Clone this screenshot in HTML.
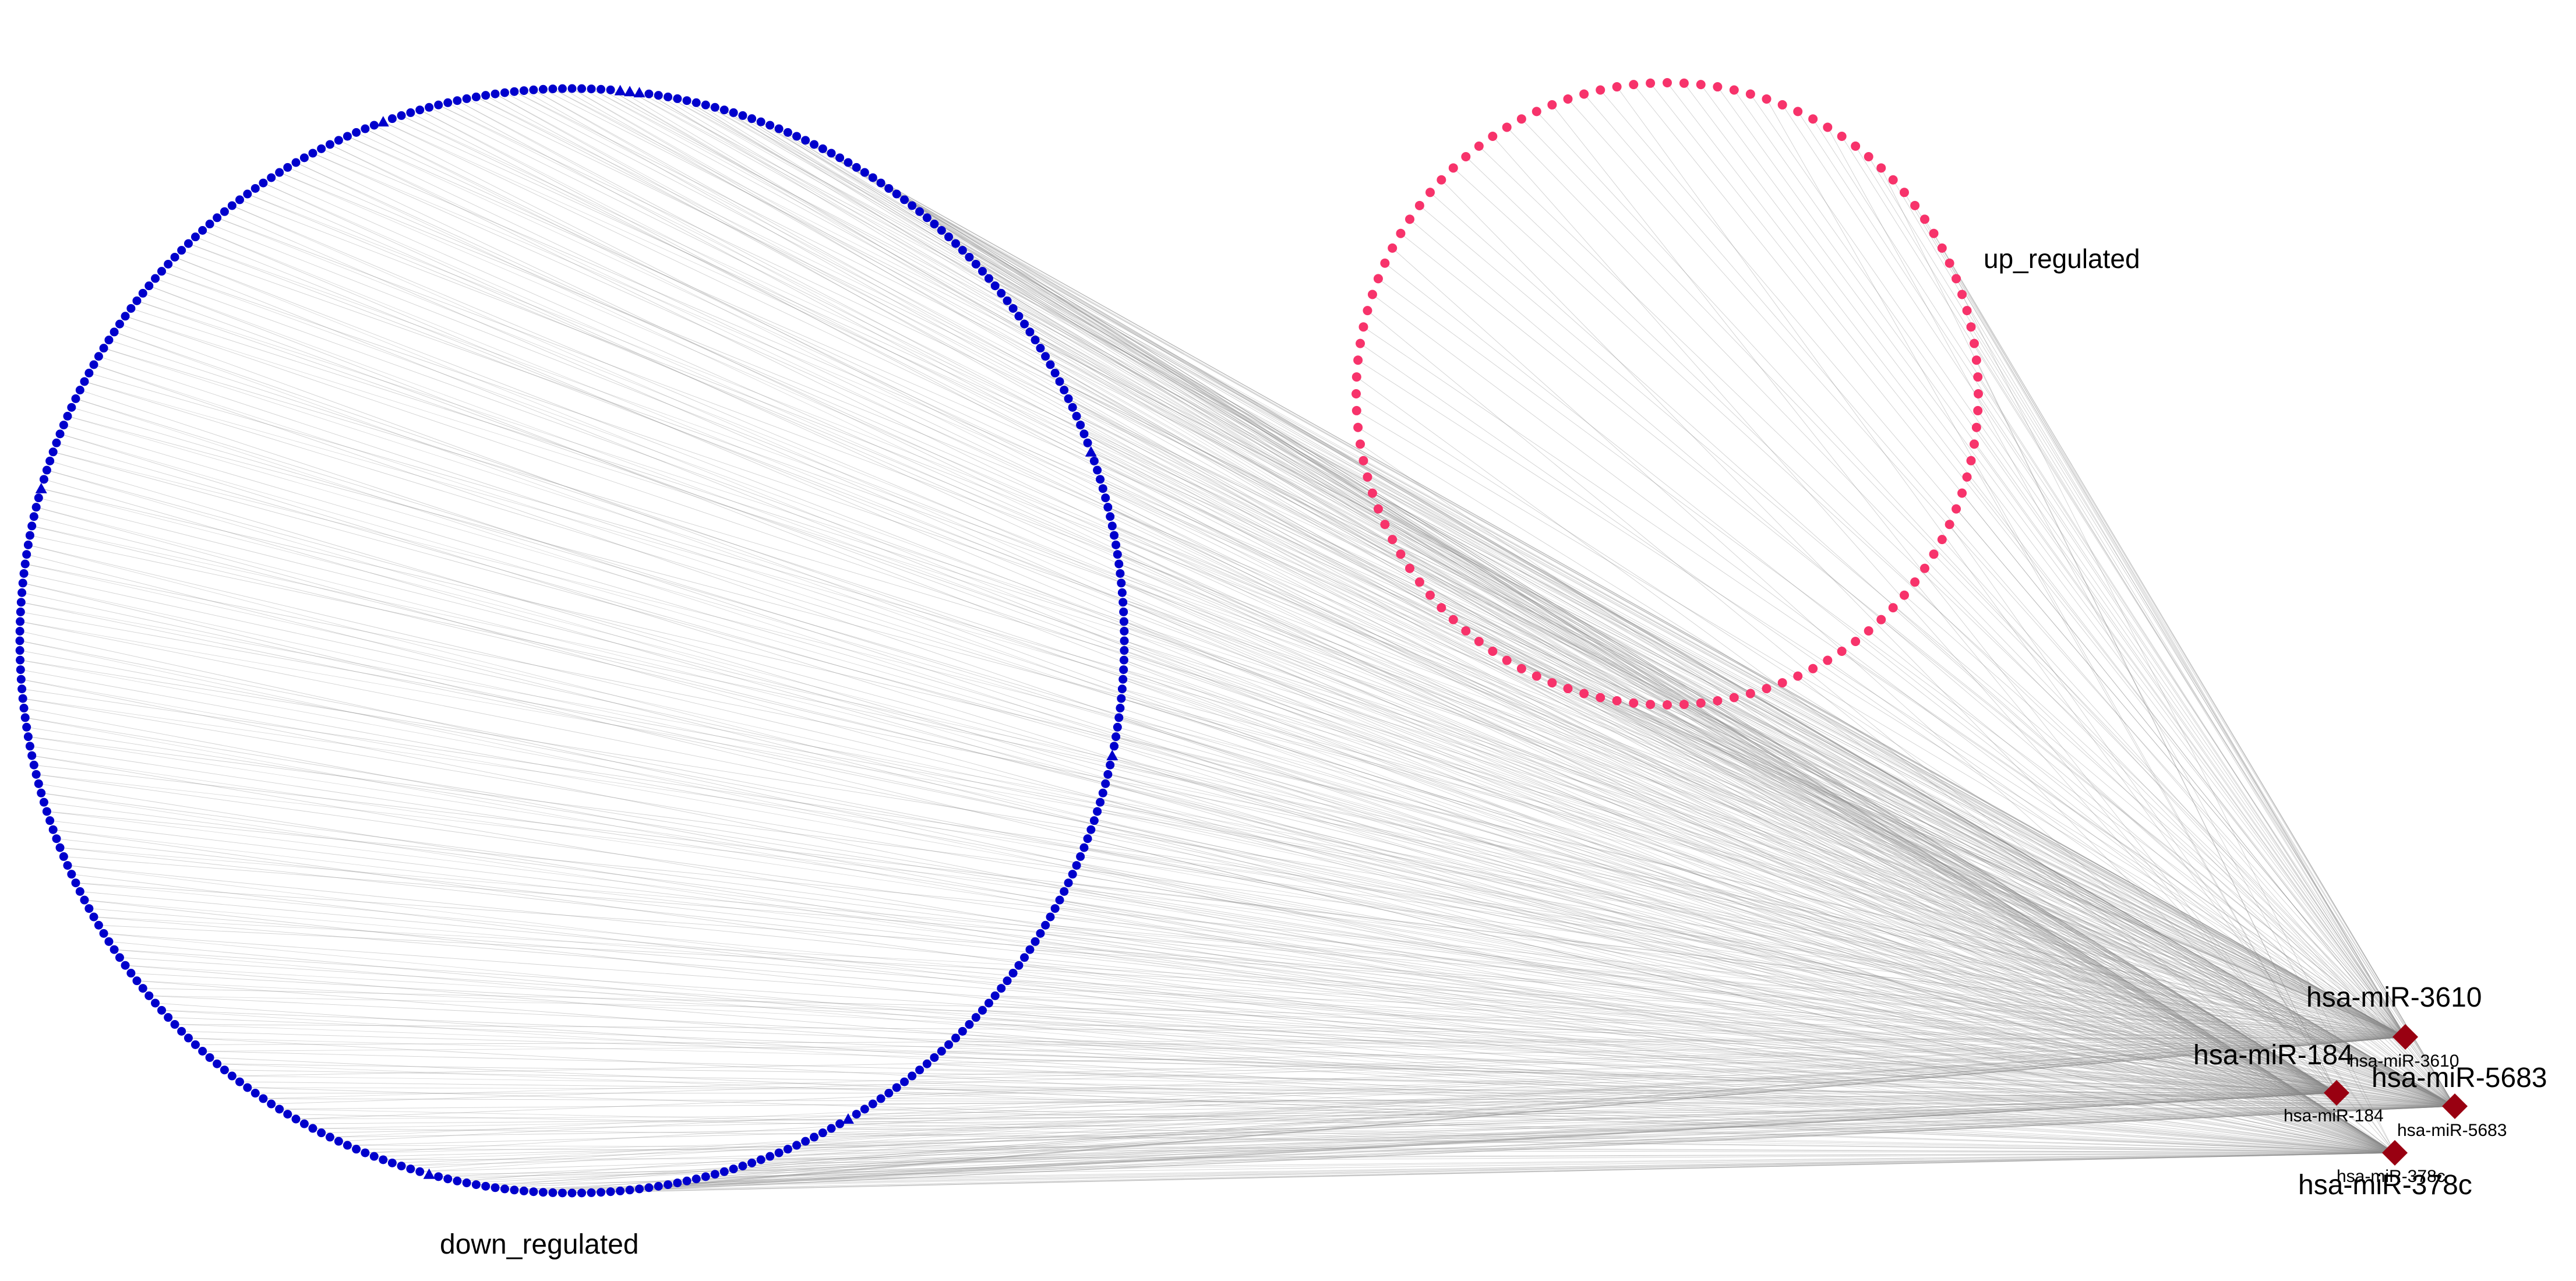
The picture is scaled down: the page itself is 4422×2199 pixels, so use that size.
<!DOCTYPE html>
<html><head><meta charset="utf-8"><style>
html,body{margin:0;padding:0;background:#fff;}
svg{display:block;}
text{font-family:"Liberation Sans",Arial,sans-serif;fill:#000;}
</style></head><body>
<svg id="net" width="4422" height="2199" viewBox="0 0 4422 2199" xmlns="http://www.w3.org/2000/svg">
<g id="edges"></g>
<g id="nodes"></g>
<g id="labels">
<text x="3405" y="460" font-size="46">up_regulated</text>
<text x="755" y="2152" font-size="48">down_regulated</text>
</g>
</svg>
<script>
// data
const mirnaNames = ["hsa-miR-3610","hsa-miR-184","hsa-miR-5683","hsa-miR-378c"];
const mirnaX = [4129,4011,4214,4111];
const mirnaY = [1780,1876,1899,1979];
const downCount = 360;
const upCount = 116;
const downTargetWeights = [0.22,0.26,0.27,0.25];
const upTargetWeights = [0.4,0.1,0.4,0.1];
const triangleIdx = [12,60,105,196,250,275,276,277,340];

const NS="http://www.w3.org/2000/svg";
const edges=document.getElementById('edges');
const nodes=document.getElementById('nodes');
const labels=document.getElementById('labels');
function mk(t,a){const e=document.createElementNS(NS,t);for(const k in a)e.setAttribute(k,a[k]);return e;}
function pick(w,i){let f=(i*0.618034)%1,acc=0;for(let k=0;k<w.length;k++){acc+=w[k];if(f<acc)return k;}return w.length-1;}

const down={cx:982,cy:1100,r:948};
const up={cx:2862,cy:676,r:534};

for(let i=0;i<downCount;i++){
  const a=2*Math.PI*i/downCount;
  const x=down.cx+down.r*Math.cos(a), y=down.cy+down.r*Math.sin(a);
  const t=pick(downTargetWeights,i);
  const l=mk('line',{x1:x,y1:y,x2:mirnaX[t],y2:mirnaY[t],stroke:'#8a8a8a','stroke-width':0.9,'stroke-opacity':0.4});
  
  
  edges.appendChild(l);
  if(i%2===0){const t2=(t+2)%4;
    const l2=mk('line',{x1:x,y1:y,x2:mirnaX[t2],y2:mirnaY[t2],stroke:'#8a8a8a','stroke-width':0.8,'stroke-opacity':0.35});
    
    
    edges.appendChild(l2);}
  let n;
  if(triangleIdx.includes(i)){
    n=mk('polygon',{points:`${x},${y-10} ${x+10},${y+8} ${x-10},${y+8}`,fill:'#0000cc'});
  } else n=mk('circle',{cx:x,cy:y,r:7.5,fill:'#0000cc'});
  
  
  nodes.appendChild(n);
}
for(let i=0;i<upCount;i++){
  const a=2*Math.PI*i/upCount;
  const x=up.cx+up.r*Math.cos(a), y=up.cy+up.r*Math.sin(a);
  const t=pick(upTargetWeights,i);
  const l=mk('line',{x1:x,y1:y,x2:mirnaX[t],y2:mirnaY[t],stroke:'#8a8a8a','stroke-width':0.9,'stroke-opacity':0.4});
  
  
  edges.appendChild(l);
  const n=mk('circle',{cx:x,cy:y,r:8,fill:'#f7336b'});
  
  
  nodes.appendChild(n);
}
const bigLab=[[3959,1728],[3765,1827],[4071,1866],[3945,2050]];
const smallLab=[[4033,1831],[3920,1925],[4115,1950],[4011,2029]];
for(let k=0;k<mirnaNames.length;k++){
  const x=mirnaX[k],y=mirnaY[k],h=22;
  const d=mk('polygon',{points:`${x},${y-h} ${x+h},${y} ${x},${y+h} ${x-h},${y}`,fill:'#990011'});
  
  
  nodes.appendChild(d);
  const s=mk('text',{x:smallLab[k][0],y:smallLab[k][1],'font-size':30});
  s.textContent=mirnaNames[k];
  
  
  labels.appendChild(s);
  const b=mk('text',{x:bigLab[k][0],y:bigLab[k][1],'font-size':48});
  b.textContent=mirnaNames[k];
  
  
  labels.appendChild(b);
}
</script>
</body></html>
